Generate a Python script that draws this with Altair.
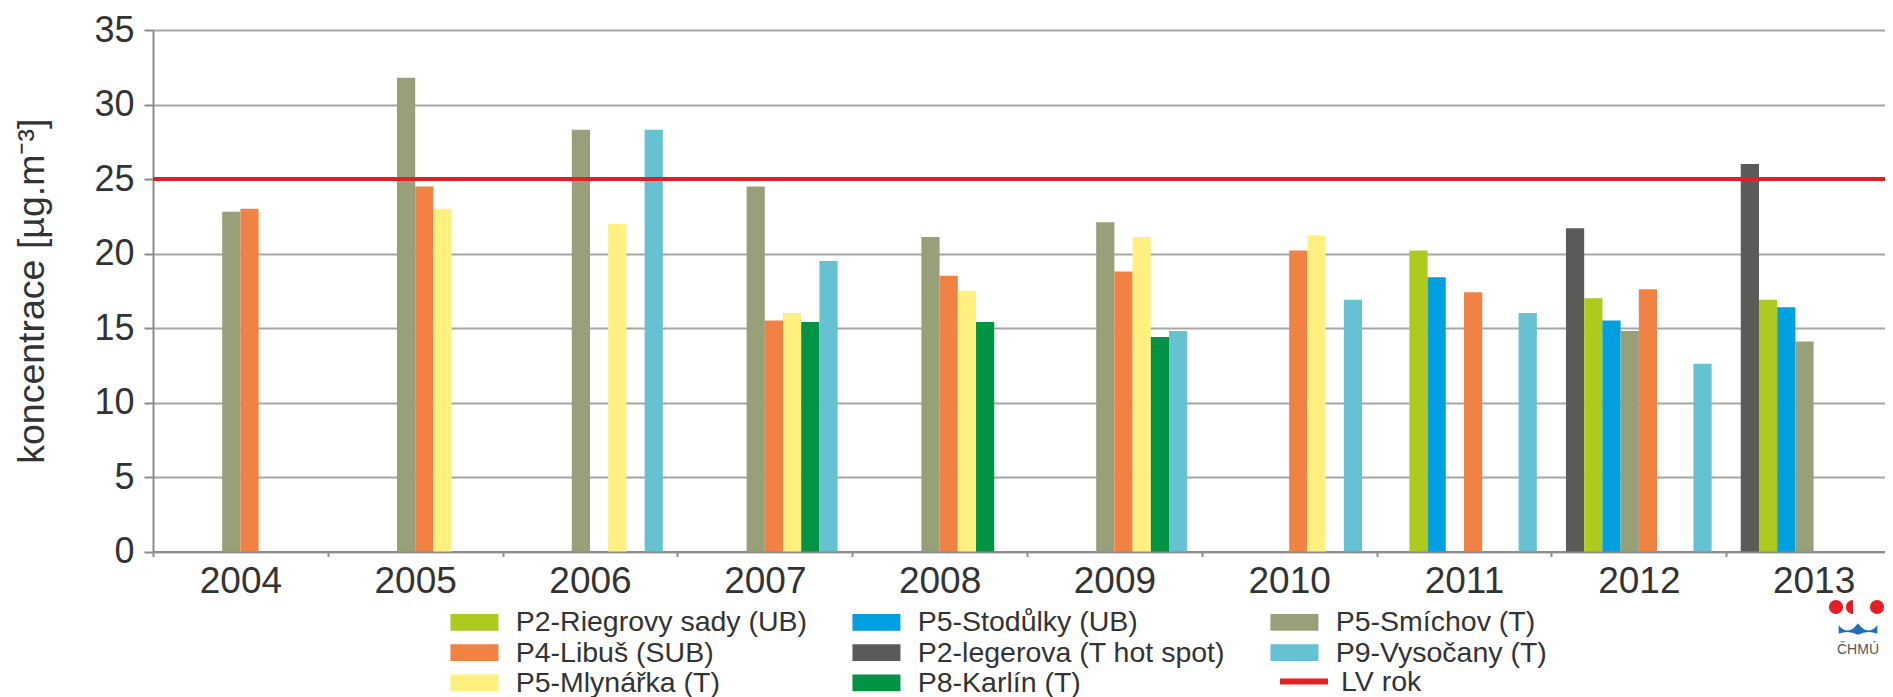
import altair as alt
import pandas as pd

FONT = "Liberation Sans"
TEXT = "#333333"

years = [2004, 2005, 2006, 2007, 2008, 2009, 2010, 2011, 2012, 2013]

# slot order inside each year group
slot_order = [
    "P2-legerova (T hot spot)",
    "P2-Riegrovy sady (UB)",
    "P5-Stodůlky (UB)",
    "P5-Smíchov (T)",
    "P4-Libuš (SUB)",
    "P5-Mlynářka (T)",
    "P8-Karlín (T)",
    "P9-Vysočany (T)",
]

legerova  = [None, None, None, None, None, None, None, None, 21.7, 26.0]
riegrovy  = [None, None, None, None, None, None, None, 20.2, 17.0, 16.9]
stodulky  = [None, None, None, None, None, None, None, 18.4, 15.5, 16.4]
smichov   = [22.8, 31.8, 28.3, 24.5, 21.1, 22.1, None, None, 14.8, 14.1]
libus     = [23.0, 24.5, None, 15.5, 18.5, 18.8, 20.2, 17.4, 17.6, None]
mlynarka  = [None, 23.0, 22.0, 16.0, 17.5, 21.1, 21.2, None, None, None]
karlin    = [None, None, None, 15.4, 15.4, 14.4, None, None, None, None]
vysocany  = [None, None, 28.3, 19.5, None, 14.8, 16.9, 16.0, 12.6, None]

lv_label = ["LV rok"]
lv_value = [25]

series_values = [legerova, riegrovy, stodulky, smichov, libus, mlynarka, karlin, vysocany]

# legend order (filled column by column, as in the original)
legend_order = [
    "P2-Riegrovy sady (UB)", "P4-Libuš (SUB)", "P5-Mlynářka (T)",
    "P5-Stodůlky (UB)", "P2-legerova (T hot spot)", "P8-Karlín (T)",
    "P5-Smíchov (T)", "P9-Vysočany (T)",
]
legend_colors = [
    "#afca1f", "#f08244", "#fff080",
    "#009fe0", "#5b5b59", "#009444",
    "#98a07a", "#66c2d2",
]

rows = []
for name, vals in zip(slot_order, series_values):
    for y, v in zip(years, vals):
        if v is not None:
            rows.append({"year": y, "series": name, "value": v})
df = pd.DataFrame(rows)
lv_df = pd.DataFrame({"value": lv_value, "series": lv_label})

W = 1748
H = 521.5

# wide, flat legend swatch drawn with a small nominal symbol size
bar_path = "M-2,-0.7H2V0.7H-2Z"
line_path = "M-2,0H2"

bars = alt.Chart(df).mark_bar(strokeWidth=0).encode(
    x=alt.X(
        "year:O",
        scale=alt.Scale(paddingInner=0, paddingOuter=0),
        axis=alt.Axis(
            title=None, labelAngle=0, tickBand="extent", grid=False,
            labelFontSize=37, labelFont=FONT, labelColor=TEXT, labelPadding=7,
            tickSize=5, tickColor="#8c8c8c", tickWidth=2,
            domainColor="#8c8c8c", domainWidth=2, labelBaseline="top",
        ),
    ),
    xOffset=alt.XOffset(
        "series:N",
        scale=alt.Scale(domain=slot_order, paddingInner=0, paddingOuter=0.8),
    ),
    y=alt.Y(
        "value:Q",
        scale=alt.Scale(domain=[0, 35], nice=False),
        axis=alt.Axis(
            title="koncentrace [µg.m⁻³]", values=[0, 5, 10, 15, 20, 25, 30, 35],
            grid=True, gridColor="#a6a6a6", gridWidth=2,
            labelFontSize=36, labelFont=FONT, labelColor=TEXT, labelPadding=10,
            tickSize=9, tickColor="#8c8c8c", tickWidth=2,
            domainColor="#8c8c8c", domainWidth=2,
            titleFont=FONT, titleFontSize=37.5, titleFontWeight="normal", titleColor=TEXT,
            titleAngle=270, titleX=-110, titleY=H / 2, titleAlign="center",
            titleBaseline="alphabetic",
        ),
    ),
    color=alt.Color(
        "series:N",
        scale=alt.Scale(domain=legend_order, range=legend_colors),
        legend=alt.Legend(
            title=None, orient="none", legendX=297.7, legendY=578, columns=3,
            columnPadding=44, rowPadding=1.3, symbolType=bar_path, symbolSize=576,
            symbolOffset=9.5, symbolStrokeWidth=0,
            labelFontSize=28.5, labelFont=FONT, labelColor=TEXT,
            labelOffset=27, labelLimit=600,
        ),
    ),
)

rule = alt.Chart(lv_df).mark_rule(strokeWidth=4).encode(
    y="value:Q",
    stroke=alt.Stroke(
        "series:N",
        scale=alt.Scale(domain=lv_label, range=["#e31e24"]),
        legend=alt.Legend(
            title=None, orient="none", legendX=1127, legendY=636.5,
            symbolType=line_path, symbolSize=576, symbolStrokeWidth=6,
            symbolOffset=9,
            labelFontSize=28.5, labelFont=FONT, labelColor=TEXT,
            labelOffset=22, labelLimit=600,
        ),
    ),
)

dummy = pd.DataFrame({"a": [0]})
logo_text = alt.Chart(dummy).mark_text(
    text="ČHMÚ", font=FONT, fontSize=14, color="#555555"
).encode(x=alt.value(1705), y=alt.value(620))
logo_dots = alt.Chart(pd.DataFrame({"px": [1683, 1724]})).mark_point(
    filled=True, color="#e31e24", size=200, opacity=1, shape="circle"
).encode(x=alt.X("px:Q", scale=None), y=alt.value(577))
logo_half = alt.Chart(dummy).mark_point(
    filled=True, color="#e31e24", size=200, opacity=1,
    shape="M0,-1 A1,1 0 0,0 0,1 Z",
).encode(x=alt.value(1700), y=alt.value(577))
logo_wave = alt.Chart(dummy).mark_point(
    filled=True, color="#1f6fb8", size=1500, opacity=1,
    shape="M-1,-0.2 Q-0.5,0.4 0,-0.3 Q0.5,0.4 1,-0.2 L1,0.25 Q0.5,0.05 0,0.3 Q-0.5,0.05 -1,0.25 Z",
).encode(x=alt.value(1705), y=alt.value(599))

chart = alt.layer(bars, rule, logo_text, logo_dots, logo_half, logo_wave).properties(
    width=W, height=H,
    autosize=alt.AutoSizeParams(type="none"),
    padding={"left": 145, "top": 22, "right": -16, "bottom": 145.5},
).configure_view(strokeWidth=0).configure(background="white")

chart.save("out.html", embed_options={"renderer": "svg", "actions": False})
